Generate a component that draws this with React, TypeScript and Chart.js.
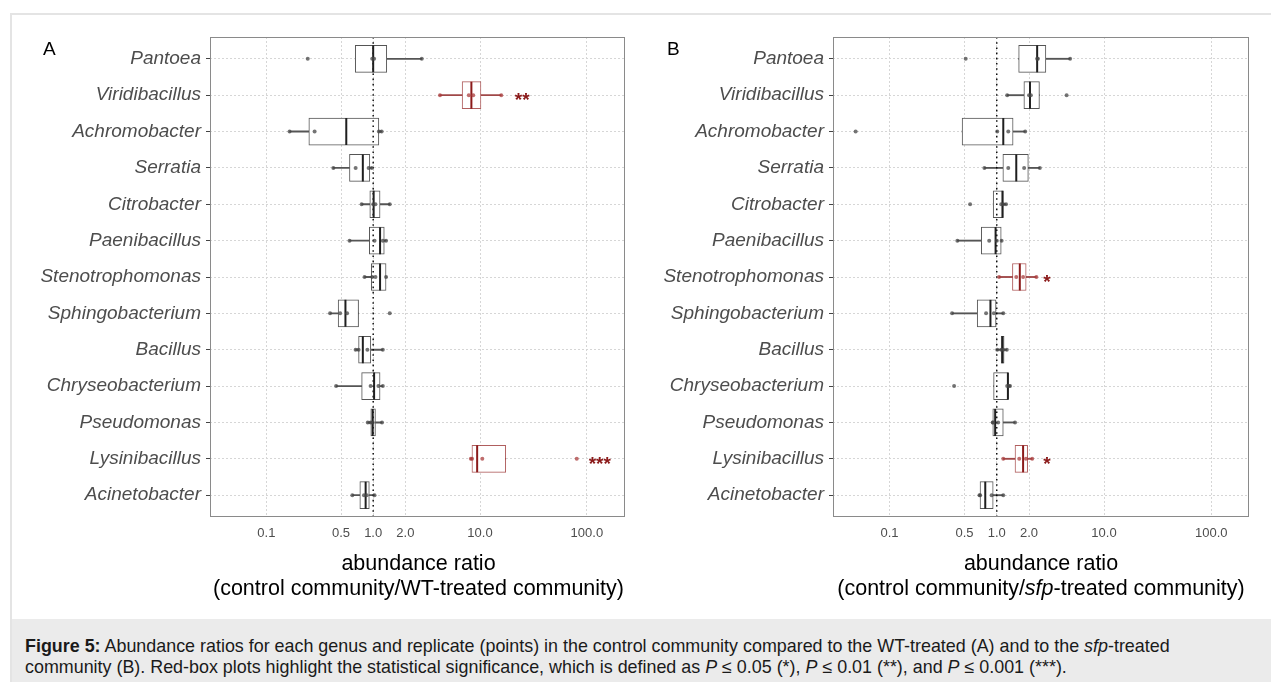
import React, { useEffect, useRef } from "react";
import { Chart, registerables } from "chart.js";

Chart.register(...registerables);

const FONT = "'Liberation Sans', Arial, Helvetica, sans-serif";

// ---------- data ----------
const genera = [
  "Pantoea",
  "Viridibacillus",
  "Achromobacter",
  "Serratia",
  "Citrobacter",
  "Paenibacillus",
  "Stenotrophomonas",
  "Sphingobacterium",
  "Bacillus",
  "Chryseobacterium",
  "Pseudomonas",
  "Lysinibacillus",
  "Acinetobacter",
];

const xTickValues = [0.1, 0.5, 1, 2, 10, 100];
const xTickLabels = ["0.1", "0.5", "1.0", "2.0", "10.0", "100.0"];
const xMin = 0.0297;
const xMax = 225;
const referenceRatio = 1;

// Panel A: control / WT-treated
const aQ1 = [0.68, 6.8, 0.25, 0.6, 0.93, 0.92, 0.96, 0.47, 0.73, 0.78, 0.95, 8.4, 0.75];
const aMedian = [1.0, 8.3, 0.56, 0.8, 1.01, 1.16, 1.16, 0.55, 0.8, 1.02, 0.99, 9.4, 0.85];
const aQ3 = [1.34, 10.2, 1.13, 0.93, 1.16, 1.27, 1.32, 0.73, 0.95, 1.16, 1.05, 17.4, 0.92];
const aWhiskerLow = [0.68, 4.2, 0.165, 0.42, 0.78, 0.6, 0.83, 0.395, 0.685, 0.45, 0.89, 8.2, 0.64];
const aWhiskerHigh = [2.85, 15.8, 1.2, 0.97, 1.43, 1.32, 1.32, 0.73, 1.23, 1.23, 1.21, 17.4, 1.03];
const aPoints = [
  [0.244, 0.98, 1.02, 2.85],
  [4.22, 7.85, 8.64, 15.8],
  [0.165, 0.283, 1.13, 1.2],
  [0.424, 0.685, 0.906, 0.97],
  [0.78, 1.0, 1.05, 1.43],
  [0.601, 1.03, 1.23, 1.32],
  [0.83, 0.98, 1.05, 1.32],
  [0.395, 0.491, 0.57, 1.43],
  [0.685, 0.73, 0.883, 1.23],
  [0.45, 0.946, 1.12, 1.23],
  [0.89, 0.946, 0.99, 1.21],
  [8.2, 8.42, 10.5, 80.4],
  [0.638, 0.82, 0.87, 1.03],
];
const aStars = ["", "**", "", "", "", "", "", "", "", "", "", "***", ""];
const aStarX = [null, 24.8, null, null, null, null, null, null, null, null, null, 132, null];

// Panel B: control / sfp-treated
const bQ1 = [1.6, 1.79, 0.475, 1.14, 0.926, 0.717, 1.4, 0.657, 1.1, 0.934, 0.918, 1.48, 0.698];
const bMedian = [2.38, 2.04, 1.15, 1.52, 1.13, 0.975, 1.64, 0.873, 1.13, 1.27, 0.966, 1.76, 0.781];
const bQ3 = [2.87, 2.5, 1.42, 1.97, 1.15, 1.1, 1.88, 0.984, 1.17, 1.28, 1.15, 1.94, 0.926];
const bWhiskerLow = [1.6, 1.25, 0.475, 0.767, 0.926, 0.429, 1.05, 0.383, 1.01, 0.934, 0.918, 1.15, 0.69];
const bWhiskerHigh = [4.83, 2.5, 1.84, 2.52, 1.22, 1.11, 2.34, 1.15, 1.24, 1.33, 1.48, 2.14, 1.15];
const bPoints = [
  [0.513, 2.38, 2.42, 4.83],
  [1.25, 2.0, 2.08, 4.48],
  [0.0483, 1.01, 1.28, 1.84],
  [0.767, 1.28, 1.8, 2.52],
  [0.564, 1.1, 1.15, 1.22],
  [0.429, 0.85, 1.0, 1.11],
  [1.05, 1.52, 1.76, 2.34],
  [0.383, 0.795, 0.94, 1.15],
  [1.01, 1.1, 1.15, 1.24],
  [0.4, 1.25, 1.3, 1.33],
  [0.918, 0.92, 1.03, 1.48],
  [1.15, 1.62, 1.87, 2.14],
  [0.69, 0.7, 0.895, 1.15],
];
const bStars = ["", "", "", "", "", "", "*", "", "", "", "", "*", ""];
const bStarX = [null, null, null, null, null, null, 2.94, null, null, null, null, 2.94, null];

// ---------- styles ----------
const BOX_GRAY = "#555555";
const BOX_RED = "rgba(150,40,40,0.75)";
const MED_GRAY = "#1f1f1f";
const MED_RED = "#8b1a1a";
const WHISK_GRAY = "#555555";
const WHISK_RED = "#a04848";
const PT_GRAY = "rgba(70,70,70,0.75)";
const PT_RED = "rgba(170,60,60,0.75)";
const STAR_RED = "#8b1a1a";
const GRID = "#d6d6d6";

type PanelSpec = {
  q1: number[];
  med: number[];
  q3: number[];
  wLow: number[];
  wHigh: number[];
  points: number[][];
  stars: string[];
  starX: (number | null)[];
  axisWidth: number;
  padRight: number;
  canvasWidth: number;
};

function PanelChart({ spec }: { spec: PanelSpec }) {
  const ref = useRef<HTMLCanvasElement | null>(null);

  useEffect(() => {
    if (!ref.current) return;
    const p = spec;
    const sig = (i: number) => !!p.stars[i];
    const rowOf = (ctx: any) => (ctx && ctx.raw && typeof ctx.raw.y === "number" ? ctx.raw.y - 1 : -1);

    const boxes = genera.map((_, i) => ({ x: [p.q1[i], p.q3[i]], y: i + 1 }));
    const whiskLow = genera.map((_, i) => ({ x: [p.wLow[i], p.q1[i]], y: i + 1 }));
    const whiskHigh = genera.map((_, i) => ({ x: [p.q3[i], p.wHigh[i]], y: i + 1 }));
    const medians = genera.map((_, i) => ({ x: p.med[i], y: i + 1 }));
    const pts = p.points.flatMap((arr, i) => arr.map((v) => ({ x: v, y: i + 1 })));

    const overlay = {
      id: "overlay",
      afterDatasetsDraw(chart: any) {
        const { ctx, chartArea, scales } = chart;
        ctx.save();
        ctx.font = `bold 19px ${FONT}`;
        ctx.fillStyle = STAR_RED;
        ctx.textAlign = "center";
        ctx.textBaseline = "alphabetic";
        p.stars.forEach((s, i) => {
          const xv = p.starX[i];
          if (!s || xv == null) return;
          const x = scales.x.getPixelForValue(xv);
          const y = scales.y.getPixelForValue(i + 1);
          ctx.fillText(s, x, y + 11);
        });
        ctx.strokeStyle = "#8a8a8a";
        ctx.lineWidth = 1;
        ctx.setLineDash([]);
        ctx.strokeRect(
          Math.round(chartArea.left) + 0.5,
          Math.round(chartArea.top) + 0.5,
          Math.round(chartArea.width) - 1,
          Math.round(chartArea.height) - 1
        );
        ctx.restore();
      },
    };

    const chart = new Chart(ref.current, {
      type: "scatter",
      data: {
        datasets: [
          {
            type: "scatter",
            data: pts,
            pointRadius: 2,
            pointBorderWidth: 0,
            pointBackgroundColor: (ctx: any) => (sig(rowOf(ctx)) ? PT_RED : PT_GRAY),
            order: 1,
          } as any,
          {
            type: "scatter",
            data: medians,
            pointStyle: "line",
            pointRotation: 90,
            pointRadius: 13.5,
            pointBorderWidth: 2,
            pointBorderColor: (ctx: any) => (sig(ctx.dataIndex) ? MED_RED : MED_GRAY),
            pointBackgroundColor: (ctx: any) => (sig(ctx.dataIndex) ? MED_RED : MED_GRAY),
            order: 2,
          } as any,
          {
            type: "line",
            data: [
              { x: referenceRatio, y: 0.4 },
              { x: referenceRatio, y: 13.6 },
            ],
            borderColor: "#000000",
            borderWidth: 1.4,
            borderDash: [1.6, 3.6],
            pointRadius: 0,
            order: 3,
          } as any,
          {
            type: "bar",
            indexAxis: "y",
            grouped: false,
            data: boxes,
            barThickness: 27,
            backgroundColor: "#ffffff",
            borderColor: (ctx: any) => (sig(ctx.dataIndex) ? BOX_RED : BOX_GRAY),
            borderWidth: 1,
            borderSkipped: false,
            order: 4,
          } as any,
          {
            type: "bar",
            indexAxis: "y",
            grouped: false,
            data: whiskLow,
            barThickness: 1.2,
            backgroundColor: (ctx: any) => (sig(ctx.dataIndex) ? WHISK_RED : WHISK_GRAY),
            borderWidth: 0,
            order: 5,
          } as any,
          {
            type: "bar",
            indexAxis: "y",
            grouped: false,
            data: whiskHigh,
            barThickness: 1.2,
            backgroundColor: (ctx: any) => (sig(ctx.dataIndex) ? WHISK_RED : WHISK_GRAY),
            borderWidth: 0,
            order: 5,
          } as any,
        ],
      },
      options: {
        responsive: false,
        maintainAspectRatio: false,
        animation: false,
        devicePixelRatio: 1,
        events: [],
        layout: { padding: { left: 0, top: 37, right: p.padRight, bottom: 72 } },
        plugins: { legend: { display: false }, tooltip: { enabled: false } },
        scales: {
          x: {
            type: "logarithmic",
            min: xMin,
            max: xMax,
            offset: false,
            afterBuildTicks: (s: any) => {
              s.ticks = xTickValues.map((v) => ({ value: v }));
            },
            afterFit: (s: any) => {
              s.height = 30;
            },
            ticks: {
              autoSkip: false,
              maxRotation: 0,
              padding: 9,
              color: "#4d4d4d",
              font: { family: FONT, size: 13 },
              callback: (v: any) => {
                const k = xTickValues.findIndex((t) => Math.abs(t - Number(v)) < 1e-9);
                return k >= 0 ? xTickLabels[k] : "";
              },
            },
            grid: { color: GRID, lineWidth: 1, drawTicks: false, offset: false },
            border: { display: false, dash: [2, 2] },
          },
          y: {
            type: "linear",
            reverse: true,
            min: 0.4,
            max: 13.6,
            offset: false,
            afterBuildTicks: (s: any) => {
              s.ticks = genera.map((_, i) => ({ value: i + 1 }));
            },
            afterFit: (s: any) => {
              s.width = p.axisWidth;
            },
            ticks: {
              autoSkip: false,
              padding: 5,
              color: "#4d4d4d",
              font: { family: FONT, size: 19, style: "italic" },
              callback: (v: any) => genera[Math.round(Number(v)) - 1] ?? "",
            },
            grid: {
              color: GRID,
              lineWidth: 1,
              offset: false,
              tickLength: 4,
              tickColor: "#444444",
              tickWidth: 1,
              tickBorderDash: [10, 0],
            },
            border: { display: false, dash: [2, 2] },
          },
        },
      } as any,
      plugins: [overlay],
    });

    return () => chart.destroy();
  }, [spec]);

  return <canvas ref={ref} width={spec.canvasWidth} height={619} style={{ display: "block", width: spec.canvasWidth, height: 619 }} />;
}

const specA: PanelSpec = {
  q1: aQ1,
  med: aMedian,
  q3: aQ3,
  wLow: aWhiskerLow,
  wHigh: aWhiskerHigh,
  points: aPoints,
  stars: aStars,
  starX: aStarX,
  axisWidth: 210,
  padRight: 13,
  canvasWidth: 640,
};

const specB: PanelSpec = {
  q1: bQ1,
  med: bMedian,
  q3: bQ3,
  wLow: bWhiskerLow,
  wHigh: bWhiskerHigh,
  points: bPoints,
  stars: bStars,
  starX: bStarX,
  axisWidth: 193,
  padRight: 22,
  canvasWidth: 631,
};

const titleStyle: React.CSSProperties = {
  position: "absolute",
  top: 551,
  transform: "translateX(-50%)",
  whiteSpace: "nowrap",
  textAlign: "center",
  fontFamily: FONT,
  fontSize: 21.5,
  lineHeight: "25px",
  color: "#000",
};

const letterStyle: React.CSSProperties = {
  position: "absolute",
  top: 38,
  fontFamily: FONT,
  fontSize: 19,
  color: "#000",
};

export default function App() {
  return (
    <div
      style={{
        position: "absolute",
        left: 0,
        top: 0,
        width: 1271,
        height: 682,
        overflow: "hidden",
        background: "#ffffff",
        fontFamily: FONT,
      }}
    >
      <div
        style={{
          position: "absolute",
          left: 10,
          top: 13,
          width: 1300,
          height: 700,
          borderLeft: "2px solid #e4e4e4",
          borderTop: "2px solid #e4e4e4",
          boxSizing: "border-box",
        }}
      />
      <div
        style={{
          position: "absolute",
          left: 12,
          top: 619,
          width: 1290,
          height: 70,
          background: "#ebebeb",
        }}
      />
      <div style={{ position: "absolute", left: 0, top: 0 }}>
        <PanelChart spec={specA} />
      </div>
      <div style={{ position: "absolute", left: 640, top: 0 }}>
        <PanelChart spec={specB} />
      </div>
      <div style={{ ...letterStyle, left: 43 }}>A</div>
      <div style={{ ...letterStyle, left: 667 }}>B</div>
      <div style={{ ...titleStyle, left: 418.5 }}>
        abundance ratio
        <br />
        (control community/WT-treated community)
      </div>
      <div style={{ ...titleStyle, left: 1041 }}>
        abundance ratio
        <br />
        (control community/<i>sfp</i>-treated community)
      </div>
      <div
        style={{
          position: "absolute",
          left: 25,
          top: 636,
          fontFamily: FONT,
          fontSize: 17.9,
          lineHeight: "21px",
          color: "#1a1a1a",
          whiteSpace: "nowrap",
        }}
      >
        <b>Figure 5:</b> Abundance ratios for each genus and replicate (points) in the control community compared to the
        WT-treated (A) and to the <i>sfp</i>-treated
        <br />
        community (B). Red-box plots highlight the statistical significance, which is defined as <i>P</i> ≤ 0.05 (*),{" "}
        <i>P</i> ≤ 0.01 (**), and <i>P</i> ≤ 0.001 (***).
      </div>
    </div>
  );
}
